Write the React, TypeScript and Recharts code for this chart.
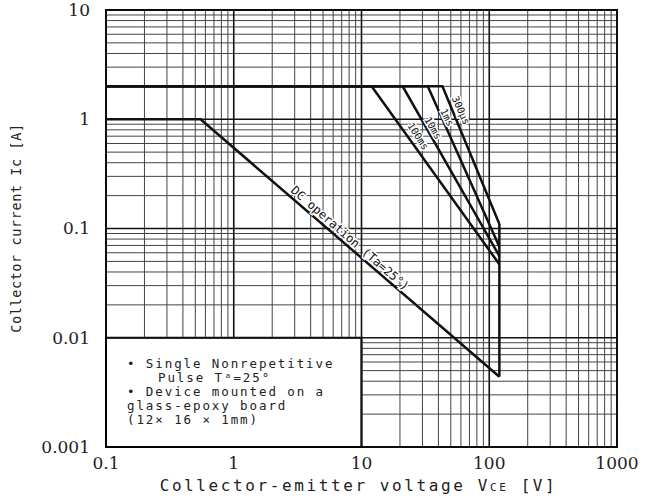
import React from "react";
import {
    LineChart,
    Line,
    XAxis,
    YAxis,
    ReferenceArea,
    ReferenceDot,
    ReferenceLine
} from "recharts";

// Safe operating area, log-log
const xTicks = [0.1, 1, 10, 100, 1000];
const yTicks = [0.001, 0.01, 0.1, 1, 10];
const xDecades = [0.1, 1, 10, 100];
const yDecades = [0.001, 0.01, 0.1, 1];
const minorSteps = [2, 3, 4, 5, 6, 7, 8, 9];

const dcCurve = [
    { v: 0.1, i: 1 },
    { v: 0.55, i: 1 },
    { v: 120, i: 0.0044 }
];
const pulse100ms = [
    { v: 0.1, i: 2 },
    { v: 12, i: 2 },
    { v: 120, i: 0.047 }
];
const pulse10ms = [
    { v: 0.1, i: 2 },
    { v: 21, i: 2 },
    { v: 120, i: 0.056 }
];
const pulse1ms = [
    { v: 0.1, i: 2 },
    { v: 33, i: 2 },
    { v: 120, i: 0.068 }
];
const pulse300us = [
    { v: 0.1, i: 2 },
    { v: 43, i: 2 },
    { v: 120, i: 0.11 }
];
const voltageLimit = [
    { v: 120, i: 0.11 },
    { v: 120, i: 0.0044 }
];

const curveLabels = [
    { text: "DC operation (Ta=25°)", v: 7.5, i: 0.073, angle: 41, size: 12, off: -7 },
    { text: "100ms", v: 27.7, i: 0.7, angle: 57, size: 10, off: 0 },
    { text: "10ms", v: 36.3, i: 0.83, angle: 60, size: 10, off: 0 },
    { text: "1ms", v: 46.7, i: 1.04, angle: 64, size: 10, off: 0 },
    { text: "300μs", v: 60, i: 1.21, angle: 66, size: 10, off: 0 }
];

const noteLines = [
    { text: "• Single Nonrepetitive", indent: 0 },
    { text: "Pulse Tᵃ=25°", indent: 31 },
    { text: "• Device mounted on a", indent: 0 },
    { text: "glass-epoxy board", indent: 0 },
    { text: "(12× 16 × 1mm)", indent: 0 }
];

// note box corners (V, A) - the grid is not drawn under it
const boxV = 10;
const boxI = 0.01;

const xMinor = xDecades.flatMap((d) => minorSteps.map((m) => m * d));
const yMinor = yDecades.flatMap((d) => minorSteps.map((m) => m * d));

const tickFont = "'DejaVu Serif', serif";
const monoFont = "'DejaVu Sans Mono', monospace";
const curveStroke = "#111";

const vLine = (v: number) =>
    v < boxV
        ? [{ x: v, y: boxI }, { x: v, y: 10 }]
        : [{ x: v, y: 0.001 }, { x: v, y: 10 }];
const hLine = (i: number) =>
    i < boxI
        ? [{ x: boxV, y: i }, { x: 1000, y: i }]
        : [{ x: 0.1, y: i }, { x: 1000, y: i }];

const App: React.FC = () => {
    const series = [dcCurve, pulse100ms, pulse10ms, pulse1ms, pulse300us, voltageLimit];

    return (
        <div style={{ position: "absolute", left: 0, top: 0, background: "#fff" }}>
            <LineChart width={658} height={499} margin={{ top: 10, right: 41, bottom: 0, left: 0 }}>
                <XAxis
                    type="number"
                    dataKey="v"
                    scale="log"
                    domain={[0.1, 1000]}
                    ticks={xTicks}
                    allowDataOverflow
                    axisLine={false}
                    tickLine={false}
                    height={52}
                    tick={({ x, y, payload }: any) => (
                        <text x={x} y={y + 8} dy="0.35em" textAnchor="middle" fontFamily={tickFont} fontSize={17} fill="#222">
                            {String(payload.value)}
                        </text>
                    )}
                    label={{
                        content: ({ viewBox }: any) => (
                            <text
                                x={viewBox.x + viewBox.width / 2 - 3}
                                y={viewBox.y + 44}
                                textAnchor="middle"
                                fontFamily={monoFont}
                                fontSize={16}
                                letterSpacing={2.6}
                                fill="#222"
                            >
                                Collector-emitter voltage V<tspan fontSize={11}>CE</tspan> [V]
                            </text>
                        )
                    }}
                />
                <YAxis
                    type="number"
                    dataKey="i"
                    scale="log"
                    domain={[0.001, 10]}
                    ticks={yTicks}
                    allowDataOverflow
                    axisLine={false}
                    tickLine={false}
                    width={106}
                    tickMargin={10}
                    tick={({ x, y, payload }: any) => (
                        <text x={x} y={y} dy="0.35em" textAnchor="end" fontFamily={tickFont} fontSize={17} fill="#222">
                            {String(payload.value)}
                        </text>
                    )}
                    label={{
                        content: ({ viewBox }: any) => (
                            <text
                                transform={`translate(16, ${viewBox.y + 218}) rotate(-90)`}
                                textAnchor="middle"
                                dy="0.35em"
                                fontFamily={monoFont}
                                fontSize={13.5}
                                letterSpacing={0.6}
                                fill="#222"
                            >
                                Collector current Ic [A]
                            </text>
                        )
                    }}
                />
                {xMinor.map((v) => (
                    <ReferenceLine key={`xm${v}`} segment={vLine(v)} stroke="#444" strokeWidth={1} />
                ))}
                {yMinor.map((i) => (
                    <ReferenceLine key={`ym${i}`} segment={hLine(i)} stroke="#444" strokeWidth={1} />
                ))}
                {xTicks.map((v) => (
                    <ReferenceLine key={`xM${v}`} segment={vLine(v)} stroke="#111" strokeWidth={1.6} />
                ))}
                {yTicks.map((i) => (
                    <ReferenceLine key={`yM${i}`} segment={hLine(i)} stroke="#111" strokeWidth={1.6} />
                ))}
                <ReferenceArea x1={0.1} x2={1000} y1={0.001} y2={10} fill="none" stroke="#000" strokeWidth={2} />
                <ReferenceArea
                    x1={0.1}
                    x2={boxV}
                    y1={0.001}
                    y2={boxI}
                    fill="#fff"
                    fillOpacity={1}
                    stroke="#000"
                    strokeWidth={2}
                    label={{
                        content: ({ viewBox }: any) => (
                            <g>
                                {noteLines.map((ln, k) => (
                                    <text
                                        key={k}
                                        x={viewBox.x + 21 + ln.indent}
                                        y={viewBox.y + 30 + k * 14}
                                        fontFamily={monoFont}
                                        fontSize={12.5}
                                        letterSpacing={1.9}
                                        fill="#222"
                                    >
                                        {ln.text}
                                    </text>
                                ))}
                            </g>
                        )
                    }}
                />
                {series.map((d, k) => (
                    <Line
                        key={k}
                        data={d}
                        dataKey="i"
                        type="linear"
                        stroke={curveStroke}
                        strokeWidth={2.5}
                        dot={false}
                        activeDot={false}
                        isAnimationActive={false}
                    />
                ))}
                {curveLabels.map((lb, k) => (
                    <ReferenceDot
                        key={k}
                        x={lb.v}
                        y={lb.i}
                        r={1}
                        ifOverflow="visible"
                        shape={({ cx, cy }: any) => (
                            <text
                                transform={`translate(${cx}, ${cy}) rotate(${lb.angle})`}
                                y={lb.off}
                                dy="0.35em"
                                textAnchor="middle"
                                fontFamily={monoFont}
                                fontSize={lb.size}
                                fill="#111"
                                stroke="#fff"
                                strokeWidth={3}
                                paintOrder="stroke"
                            >
                                {lb.text}
                            </text>
                        )}
                    />
                ))}
            </LineChart>
        </div>
    );
};

export default App;
